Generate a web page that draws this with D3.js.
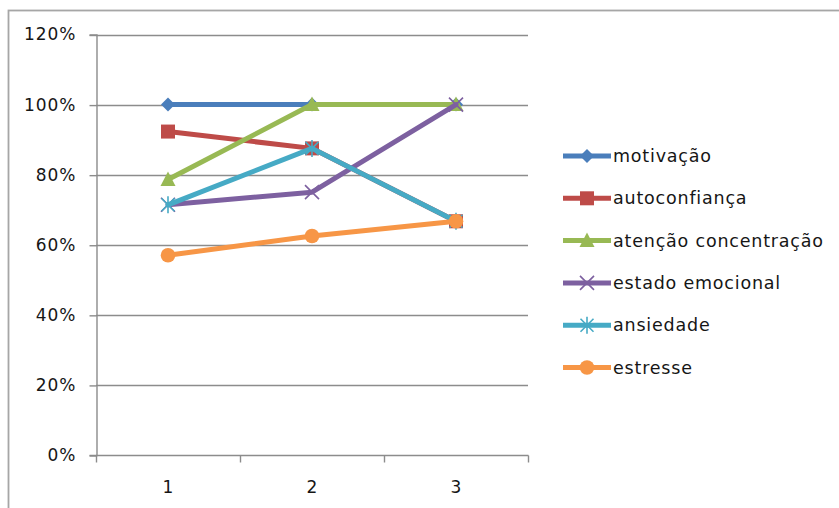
<!DOCTYPE html>
<html>
<head>
<meta charset="utf-8">
<script src="https://cdn.jsdelivr.net/npm/d3@7"></script>
<style>
  html, body { margin: 0; padding: 0; background: #fff; }
  svg { display: block; }
  text { font-family: "DejaVu Sans", sans-serif; fill: #161616; }
</style>
</head>
<body>
<svg id="chart" width="839" height="508"></svg>
<script>
// Categories on the x axis
const categories = ["1", "2", "3"];

// Series names and values (fractions of 1)
const seriesNames = ["motivação", "autoconfiança", "atenção concentração", "estado emocional", "ansiedade", "estresse"];
const motivacao   = [1.000, 1.000, 1.000];
const autoconfianca = [0.923, 0.875, 0.667];
const atencao     = [0.786, 1.000, 1.000];
const estado      = [0.714, 0.750, 1.000];
const ansiedade   = [0.714, 0.875, 0.667];
const estresse    = [0.570, 0.625, 0.667];

// Y axis tick values
const yTicks = [0, 0.2, 0.4, 0.6, 0.8, 1.0, 1.2];

const seriesValues = [motivacao, autoconfianca, atencao, estado, ansiedade, estresse];
const colors = ["#4A7EBB", "#BE4B48", "#98B954", "#7D60A0", "#46AAC5", "#F79646"];
const markers = ["diamond", "square", "triangle", "x", "star", "circle"];

const svg = d3.select("#chart");

// outer chart frame
svg.append("rect")
  .attr("x", 8.5).attr("y", 10.5)
  .attr("width", 850).attr("height", 520)
  .attr("fill", "none").attr("stroke", "#a6a6a6").attr("stroke-width", 1.8);

const plot = { left: 96, right: 528, top: 34.5, bottom: 455 };

const x = d3.scaleBand().domain(categories).range([plot.left, plot.right]);
const y = d3.scaleLinear().domain([0, 1.2]).range([plot.bottom, plot.top]);

const gridColor = "#8c8c8c";
const fontSize = "17px";

// horizontal gridlines
svg.append("g").selectAll("line").data(yTicks.filter(d => d > 0)).join("line")
  .attr("x1", plot.left).attr("x2", plot.right)
  .attr("y1", d => Math.round(y(d)) + 0.5).attr("y2", d => Math.round(y(d)) + 0.5)
  .attr("stroke", gridColor).attr("stroke-width", 1.4);

// y axis
const yAxis = d3.axisLeft(y).tickValues(yTicks).tickSize(7).tickPadding(13)
  .tickFormat(d => Math.round(d * 100) + "%");
const gy = svg.append("g").attr("transform", `translate(${plot.left + 0.5},0)`).call(yAxis);
gy.select(".domain").attr("stroke", gridColor).attr("stroke-width", 1.4);
gy.selectAll(".tick line").attr("stroke", gridColor).attr("stroke-width", 1.4)
  .attr("transform", "translate(0,0.5)");
gy.selectAll(".tick text").attr("font-size", fontSize).attr("fill", "#161616")
  .attr("letter-spacing", "1px")
  .style("font-family", "'DejaVu Sans', sans-serif");

// x axis with ticks at category boundaries
const gx = svg.append("g").attr("transform", `translate(0,${plot.bottom + 0.5})`);
gx.append("line").attr("x1", plot.left).attr("x2", plot.right + 0.5)
  .attr("stroke", gridColor).attr("stroke-width", 1.4);
const bounds = categories.map(c => x(c)).concat([plot.right]);
gx.selectAll("line.tk").data(bounds).join("line").attr("class", "tk")
  .attr("x1", d => Math.round(d) + 0.5).attr("x2", d => Math.round(d) + 0.5)
  .attr("y1", 0).attr("y2", 7)
  .attr("stroke", gridColor).attr("stroke-width", 1.4);
gx.selectAll("text").data(categories).join("text")
  .attr("x", d => x(d) + x.bandwidth() / 2)
  .attr("y", 37).attr("text-anchor", "middle").attr("font-size", fontSize)
  .text(d => d);

// marker drawing helper
function drawMarker(g, type, color, cx, cy) {
  const s = 7;
  if (type === "diamond") {
    g.append("path").attr("d", `M${cx},${cy - s}L${cx + s},${cy}L${cx},${cy + s}L${cx - s},${cy}Z`)
      .attr("fill", color);
  } else if (type === "square") {
    g.append("rect").attr("x", cx - 7).attr("y", cy - 7).attr("width", 14).attr("height", 14)
      .attr("fill", color);
  } else if (type === "triangle") {
    g.append("path").attr("d", `M${cx},${cy - 8}L${cx + 7.5},${cy + 6.5}L${cx - 7.5},${cy + 6.5}Z`)
      .attr("fill", color);
  } else if (type === "x") {
    g.append("path").attr("d", `M${cx - 7},${cy - 7}L${cx + 7},${cy + 7}M${cx - 7},${cy + 7}L${cx + 7},${cy - 7}`)
      .attr("stroke", color).attr("stroke-width", 1.6).attr("fill", "none");
  } else if (type === "star") {
    g.append("path").attr("d", `M${cx - 6.5},${cy - 6.5}L${cx + 6.5},${cy + 6.5}M${cx - 6.5},${cy + 6.5}L${cx + 6.5},${cy - 6.5}M${cx},${cy - 8.5}L${cx},${cy + 8.5}`)
      .attr("stroke", color).attr("stroke-width", 1.6).attr("fill", "none");
  } else if (type === "circle") {
    g.append("circle").attr("cx", cx).attr("cy", cy).attr("r", 7.3).attr("fill", color);
  }
}

const line = d3.line()
  .x((d, i) => x(categories[i]) + x.bandwidth() / 2)
  .y(d => y(d));

// series lines and markers
seriesValues.forEach((vals, si) => {
  const g = svg.append("g");
  g.append("path").datum(vals).attr("d", line)
    .attr("fill", "none").attr("stroke", colors[si]).attr("stroke-width", 5)
    .attr("stroke-linejoin", "round").attr("stroke-linecap", "round");
  vals.forEach((v, i) => {
    drawMarker(g, markers[si], colors[si], x(categories[i]) + x.bandwidth() / 2, y(v));
  });
});

// legend
const legend = svg.append("g");
seriesNames.forEach((name, i) => {
  const ly = 156 + i * 42.3;
  const g = legend.append("g");
  g.append("line").attr("x1", 563).attr("x2", 611).attr("y1", ly).attr("y2", ly)
    .attr("stroke", colors[i]).attr("stroke-width", 5);
  drawMarker(g, markers[i], colors[i], 587, ly);
  g.append("text").attr("x", 613).attr("y", ly + 6).attr("font-size", "17.5px")
    .attr("letter-spacing", "0.8px").text(name);
});
</script>
</body>
</html>
